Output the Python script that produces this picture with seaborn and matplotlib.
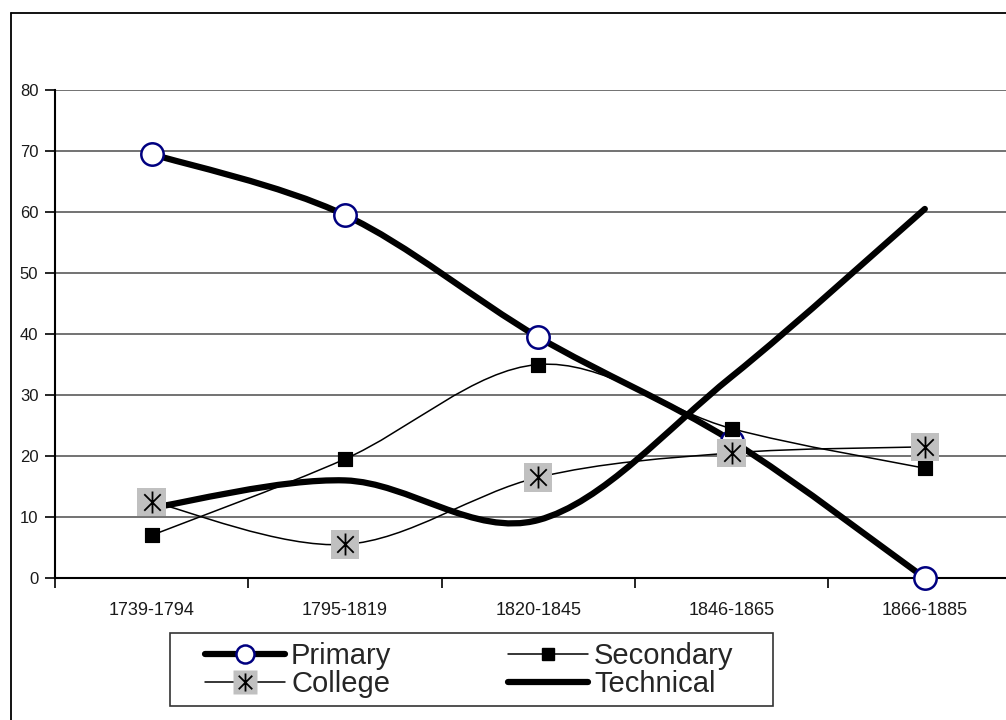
import numpy as np
import seaborn as sns
import matplotlib.pyplot as plt
from matplotlib.lines import Line2D
from matplotlib.path import Path
from matplotlib.patches import PathPatch, Rectangle
from matplotlib.legend_handler import HandlerTuple

# =============================================================================
# Data
# =============================================================================

periods = ['1739-1794', '1795-1819', '1820-1845', '1846-1865', '1866-1885']
primary = [69.5, 59.5, 39.5, 22.5, 0]
secondary = [7, 19.5, 35, 24.5, 18]
college = [12.5, 5.5, 16.5, 20.5, 21.5]
technical = [11.5, 16, 9.5, 33, 60.5]


def smooth_path(values):
    """Excel-style smoothed line: cubic Bezier segments through the points."""
    pts = np.column_stack([np.arange(len(values)), values]).astype(float)
    ext = np.vstack([pts[0], pts, pts[-1]])
    verts = [pts[0]]
    codes = [Path.MOVETO]
    for i in range(len(pts) - 1):
        p0, p1 = ext[i + 1], ext[i + 2]
        c1 = p0 + (p1 - ext[i]) / 6
        c2 = p1 - (ext[i + 3] - p0) / 6
        verts += [c1, c2, p1]
        codes += [Path.CURVE4] * 3
    return Path(verts, codes)


# Excel-like star marker: an X with a vertical bar through it
star = Path([(0, -1), (0, 1), (-0.75, -0.75), (0.75, 0.75), (-0.75, 0.75), (0.75, -0.75)],
            [Path.MOVETO, Path.LINETO] * 3)

sns.set_theme(style="white")
plt.rcParams['font.family'] = ['Liberation Sans', 'DejaVu Sans']

fig = plt.figure(figsize=(10.06, 7.2), dpi=100)
ax = fig.add_axes([55 / 1006, 1 - 578 / 720, 1 - 55 / 1006, (578 - 90) / 720])

# outer chart border (cropped on the right and bottom)
fig.add_artist(Line2D([11 / 1006, 11 / 1006], [0, 1 - 13 / 720],
                      transform=fig.transFigure, color='black', lw=1.3))
fig.add_artist(Line2D([11 / 1006, 1], [1 - 13 / 720, 1 - 13 / 720],
                      transform=fig.transFigure, color='black', lw=1.3))

# lines
styles = {
    'Primary': (primary, 4.5),
    'Secondary': (secondary, 1.1),
    'College': (college, 1.1),
    'Technical': (technical, 4.5),
}
for name, (vals, lw) in styles.items():
    ax.add_patch(PathPatch(smooth_path(vals), fill=False, edgecolor='black',
                           lw=lw, capstyle='round', joinstyle='round', zorder=3))

x = np.arange(len(periods))

# markers
sns.scatterplot(x=x, y=primary, marker='o', s=260, facecolor='white',
                edgecolor='#000080', linewidth=1.8, ax=ax, zorder=4, clip_on=False)
sns.scatterplot(x=x, y=secondary, marker='s', s=110, color='black',
                edgecolor='black', ax=ax, zorder=4)
sns.scatterplot(x=x, y=college, marker='s', s=420, color='#c0c0c0',
                edgecolor='none', ax=ax, zorder=5)
sns.scatterplot(x=x, y=college, marker=star, s=250, color='black',
                edgecolor='black', linewidth=1.3, ax=ax, zorder=6)

# axes
ax.set_yticks(range(0, 81, 10))
ax.set_xticks(x)
ax.set_xticklabels(periods)
ax.set_xticks(np.arange(-0.5, 4, 1), minor=True)
ax.set_xlim(-0.5, 4.42)
ax.set_ylim(0, 80)
ax.tick_params(axis='x', which='major', length=0, pad=17, labelsize=13,
               labelcolor='#1a1a1a')
ax.tick_params(axis='x', which='minor', length=7, width=1.2, direction='out',
               color='black', bottom=True)
ax.tick_params(axis='y', length=7, width=1.2, direction='out', color='black',
               left=True, pad=5, labelsize=12, labelcolor='#1a1a1a')
ax.yaxis.grid(True, color='#5a5a5a', lw=1.2)
ax.set_axisbelow(True)
for side in ['top', 'right']:
    ax.spines[side].set_visible(False)
for side in ['left', 'bottom']:
    ax.spines[side].set_color('black')
    ax.spines[side].set_linewidth(1.5)

# legend
h_primary = Line2D([], [], color='black', lw=4.5, marker='o', ms=13,
                   mfc='white', mec='#000080', mew=1.8)
h_secondary = Line2D([], [], color='black', lw=1.1, marker='s', ms=9)
h_college = (Line2D([], [], color='black', lw=1.1, marker='s', ms=17,
                    mfc='#c0c0c0', mec='none'),
             Line2D([], [], ls='none', marker=star, ms=13, mec='black',
                    mew=1.3))
h_technical = Line2D([], [], color='black', lw=4.5)

fig.legend(
    [h_primary, h_college, h_secondary, h_technical],
    ['Primary', 'College', 'Secondary', 'Technical'],
    handler_map={tuple: HandlerTuple(ndivide=1)},
    ncol=2,
    loc='upper left',
    bbox_to_anchor=(205 / 1006, 1 - 642 / 720),
    borderaxespad=0,
    borderpad=0,
    fontsize=21,
    handlelength=2.75,
    handletextpad=0.2,
    columnspacing=4.0,
    labelspacing=0.0,
    frameon=False,
)
fig.add_artist(Rectangle((170 / 1006, 1 - 706 / 720), 603 / 1006, 73 / 720,
                         transform=fig.transFigure, fill=False,
                         edgecolor='#333333', lw=1.2))

fig.savefig('out.png', dpi=100)
